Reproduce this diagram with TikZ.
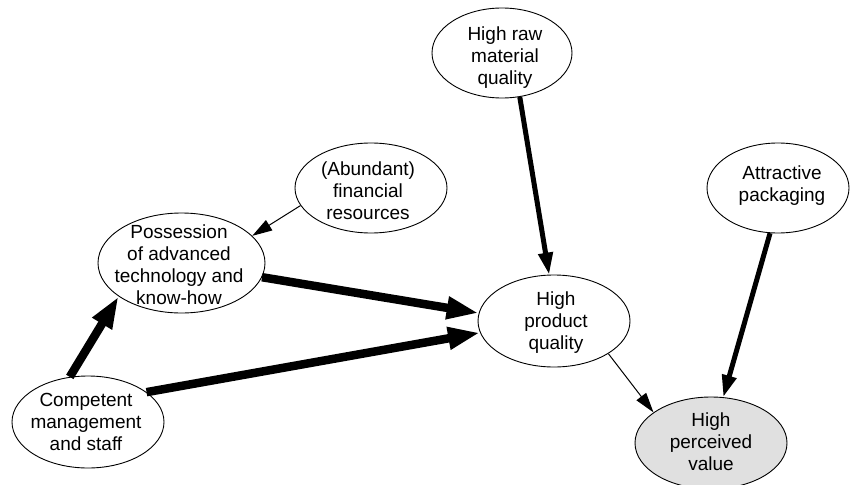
\documentclass[tikz,border=0pt]{standalone}
\usepackage{fontspec}
\setmainfont{Liberation Sans}
\usetikzlibrary{shapes.geometric,arrows.meta}
\definecolor{valuefill}{RGB}{224,224,224}
\begin{document}
\begin{tikzpicture}[x=1pt,y=-1pt,
  bubble/.style={ellipse, draw=black, line width=0.9pt, fill=white, inner sep=0pt,
                 minimum width=152pt, minimum height=92pt},
  caption/.style={align=center, inner sep=0pt, font=\fontsize{19}{22}\selectfont},
  thinlink/.style={line width=1pt, -{Triangle[length=20pt,width=12pt]}},
  midlink/.style={line width=5pt, -{Triangle[length=22pt,width=14pt]}},
  boldlink/.style={line width=8.5pt, -{Triangle[length=32pt,width=21pt]}},
]
\useasboundingbox (0,0) rectangle (853,484);

% ellipses
\node[bubble, minimum width=140pt, minimum height=90pt] (raw) at (502,53) {};
\node[bubble, minimum height=90pt] (fin) at (371,188) {};
\node[bubble, minimum width=142pt, minimum height=90pt] (att) at (778,188) {};
\node[bubble, minimum width=167pt, minimum height=100pt] (poss) at (181.5,263) {};
\node[bubble] (prod) at (554,321) {};
\node[bubble] (comp) at (88,422) {};
\node[bubble, fill=valuefill] (perc) at (711,443) {};

% captions
\node[caption] (rawtext)  at (505,57.5) {High raw\\material\\quality};
\node[caption] (fintext)  at (368,191)  {(Abundant)\\financial\\resources};
\node[caption] (atttext)  at (782,186)  {Attractive\\packaging};
\node[caption] (posstext) at (179,264.7) {Possession\\of advanced\\technology and\\know-how};
\node[caption] (prodtext) at (556,322.5) {High\\product\\quality};
\node[caption] (comptext) at (86,422.3) {Competent\\management\\and staff};
\node[caption] (perctext) at (711,442)  {High\\perceived\\value};

% influences
\draw[thinlink] (fin.194.6) -- (poss.21);
\draw[boldlink] (poss.-10) -- (prod.174);
\draw[boldlink] (comp.112) -- (poss.208);
\draw[boldlink] (comp.27) -- (prod.189);
\draw[midlink] (raw.-68) -- (prod.96);
\draw[midlink] (att.260) -- (perc.75);
\draw[thinlink] (prod.-31) -- (perc.152);
\end{tikzpicture}
\end{document}
